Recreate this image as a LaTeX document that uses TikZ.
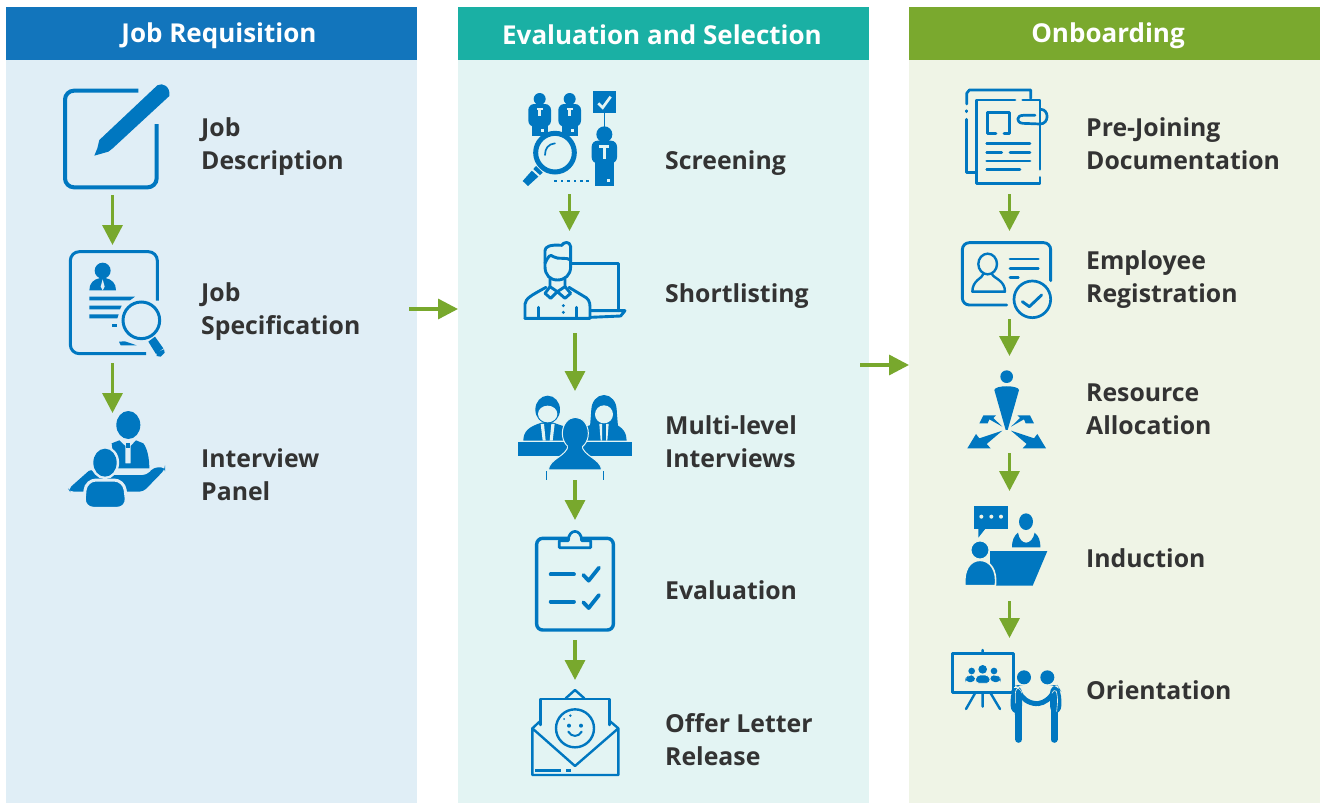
\documentclass[tikz,border=0pt]{standalone}
\usepackage{fontspec}
\setmainfont{Open Sans}
\usetikzlibrary{arrows.meta}
\definecolor{pA}{HTML}{E0EEF6}
\definecolor{pB}{HTML}{E3F4F3}
\definecolor{pC}{HTML}{EFF4E6}
\definecolor{hA}{HTML}{1275BC}
\definecolor{hB}{HTML}{1AB0A4}
\definecolor{hC}{HTML}{7AA92E}
\definecolor{ic}{HTML}{0077C0}
\definecolor{gr}{HTML}{78A82D}
\definecolor{tx}{HTML}{333333}
\tikzset{
  zoomed/.style={x=0.33333pt,y=-0.33333pt},
  panel/.style={anchor=north west,minimum width=411pt,minimum height=743pt,inner sep=0pt,outer sep=0pt},
  header/.style={anchor=north west,minimum width=411pt,minimum height=53pt,inner sep=0pt,outer sep=0pt},
  headtext/.style={inner sep=0pt,text=white,font=\fontsize{26}{30}\selectfont\bfseries},
  lab/.style={anchor=west,align=left,inner sep=0pt,text=tx,font=\fontsize{24.8}{33}\selectfont\bfseries},
  flow/.style={draw=gr,line width=3.4pt,-{Triangle[width=20pt,length=20pt]}},
  ln/.style={draw=ic,line width=3pt},
  rl/.style={draw=ic,line width=3pt,line cap=round,line join=round},
  ff/.style={fill=ic,draw=none},
}
\begin{document}
\begin{tikzpicture}[x=1pt,y=-1pt]
\useasboundingbox (0,0) rectangle (1320,803);
\fill[white] (0,0) rectangle (1320,803);
% panels
\node[panel,fill=pA] (pa) at (6,60) {};
\node[panel,fill=pB] (pb) at (458,60) {};
\node[panel,fill=pC] (pc) at (909,60) {};
\node[header,fill=hA] (ha) at (6,7) {};
\node[header,fill=hB] (hb) at (458,7) {};
\node[header,fill=hC] (hc) at (909,7) {};
\node[headtext] (ta) at (219,35.5) {Job Requisition};
\node[headtext] (tb) at (662,34.5) {Evaluation and Selection};
\node[headtext] (tc) at (1108,35.5) {Onboarding};
% labels
\node[lab] (l1) at (201,147) {Job\\Description};
\node[lab] (l2) at (201,312) {Job\\Specification};
\node[lab] (l3) at (201,475) {Interview\\Panel};
\node[lab] (l4) at (665,163) {Screening};
\node[lab] (l5) at (665,296) {Shortlisting};
\node[lab] (l6) at (665,442) {Multi-level\\Interviews};
\node[lab] (l7) at (665,590) {Evaluation};
\node[lab] (l8) at (665,740) {Offer Letter\\Release};
\node[lab] (l9) at (1086,144) {Pre-Joining\\Documentation};
\node[lab] (l10) at (1086,280) {Employee\\Registration};
\node[lab] (l11) at (1086,409) {Resource\\Allocation};
\node[lab] (l12) at (1086,558) {Induction};
\node[lab] (l13) at (1086,690) {Orientation};
% connector ends
\foreach \n/\x/\y in {a1/112.5/195,a2/112.5/245,a3/112.5/363,a4/112.5/413,
  b1/569.5/194,b2/569.5/231,b3/575/333,b4/575/391,b5/575/480,b6/575/520,b7/575/640,b8/575/680,
  c1/1009.5/194,c2/1009.5/231,c3/1009.5/319,c4/1009.5/356,c5/1009.5/453,c6/1009.5/491,c7/1009.5/601,c8/1009.5/638,
  p1/409/309,p2/458/309,p3/860/365,p4/909/365}
  \coordinate (\n) at (\x,\y);
\foreach \s/\e in {a1/a2,a3/a4,b1/b2,b3/b4,b5/b6,b7/b8,c1/c2,c3/c4,c5/c6,c7/c8,p1/p2,p3/p4}
  \draw[flow] (\s) -- (\e);
% ---------- Job description
\begin{scope}[shift={(40,70)},zoomed]
\draw[ln,line width=4pt,rounded corners=9pt] (295,62) -- (75,62) -- (75,352) -- (350,352) -- (350,162);
\fill[ic] (352,46) .. controls (368,36) and (392,50) .. (388,78) -- (218,235) -- (205,245) -- (163,257) -- (172,235) -- (178,210) -- cycle;
\end{scope}
% ---------- Job specification
\begin{scope}[shift={(40,70)},zoomed]
\draw[ln,rounded corners=9pt] (318,851) -- (91,851) -- (91,545) -- (352,545) -- (352,692);
\fill[ic] (188,602) circle (24);
\fill[ic] (148,661) .. controls (148,640) and (160,628) .. (180,624) -- (196,624) .. controls (216,628) and (228,640) .. (228,661) -- cycle;
\fill[pA] (188,628) -- (194,650) -- (188,661) -- (182,650) -- cycle;
\fill[ic] (148,680) -- (285,680) -- (270,691) -- (148,691) -- cycle;
\fill[ic] (148,707) -- (245,707) -- (240,718) -- (148,718) -- cycle;
\fill[ic] (148,733) -- (236,733) -- (232,745) -- (148,745) -- cycle;
\fill[ic] (217,761) -- (232,761) -- (232,772) -- (217,772) -- cycle;
\fill[ic] (237,815) -- (255,814) -- (290,826) -- (242,826) -- cycle;
\draw[ln] (304,751) circle (55);
\fill[ic] (325,815) -- (345,800) -- (370,835) -- (348,852) -- cycle;
\fill[ic] (350,847) -- (372,838) -- (374,848) -- (362,860) -- (350,858) -- cycle;
\end{scope}
% ---------- Interview panel
\begin{scope}[shift={(50,360)},zoomed]
\fill[ic] (235,195) ellipse [x radius=36,y radius=42];
\fill[ic] (185,250) -- (208,241) -- (226,258) -- (226,310) -- (242,310) -- (242,258) -- (258,241) -- (280,250) .. controls (292,265) and (298,295) .. (298,325) -- (195,325) -- cycle;
\fill[ic] (228,250) -- (241,250) -- (241,263) -- (228,263) -- cycle;
\fill[ic,rounded corners=4pt] (55,387) -- (125,325) -- (135,345) -- (290,345) -- (312,322) -- (345,322) -- (345,328) -- (280,395) -- (60,395) -- cycle;
\draw[fill=ic,draw=pA,line width=3pt] (165,308) ellipse [x radius=38,y radius=45];
\draw[fill=ic,draw=pA,line width=3pt,rounded corners=10pt] (100,445) -- (108,360) -- (222,360) -- (232,445) -- cycle;
\fill[ic] (165,308) ellipse [x radius=35,y radius=42];
\end{scope}
% ---------- Screening
\begin{scope}[shift={(500,80)},zoomed]
\foreach \dx in {0,90}{
  \begin{scope}[xshift=\dx*0.33333pt]
  \fill[ic] (119,57) circle (18);
  \fill[ic,rounded corners=6pt] (85,140) -- (85,72) -- (153,72) -- (153,140) -- cycle;
  \fill[ic] (96,120) rectangle (143,167);
  \fill[pB] (110,84) rectangle (128,91);
  \fill[pB] (115,84) rectangle (123,108);
  \end{scope}}
\fill[pB] (124,148) rectangle (132,156);
\fill[pB] (214,148) rectangle (222,156);
\fill[ic] (280,34) rectangle (347,100);
\draw[pB,line width=2.7pt] (295,70) -- (308,83) -- (332,50);
\draw[ic,line width=1.4pt] (313,100) -- (313,140);
\fill[ic] (313,163) circle (24);
\fill[ic,rounded corners=6pt] (275,250) -- (275,182) -- (351,182) -- (351,250) -- cycle;
\fill[ic] (285,220) rectangle (342,318);
\fill[pB] (298,195) rectangle (328,205);
\fill[pB] (308,195) rectangle (318,238);
\fill[pB] (322,298) rectangle (331,307);
\draw[fill=pB,draw=ic,line width=5pt] (165,218) circle (58);
\draw[ic,line width=1.7pt,line cap=round] (135,225) .. controls (135,205) and (145,192) .. (165,190);
\fill[ic] (68,303) -- (108,258) -- (128,278) -- (84,318) -- cycle;
\fill[pB] (94,270) -- (98,266) -- (120,286) -- (116,290) -- cycle;
\foreach \x in {167,186,205,225,244,262}
  \fill[ic] (\x-4,299) rectangle (\x+4,307);
\end{scope}
% ---------- Shortlisting
\begin{scope}[shift={(500,80)},zoomed]
\draw[rl,line width=2.9pt] (215,550) -- (355,550) -- (355,692);
\draw[rl,line width=2.9pt] (272,692) -- (375,692) -- (362,708) -- (272,712);
\draw[rl,line width=2.9pt] (135,560) -- (135,512) .. controls (135,500) and (150,493) .. (185,496) .. controls (190,486) and (210,482) .. (212,500) -- (212,560) .. controls (212,585) and (195,600) .. (172,600) .. controls (150,600) and (135,585) .. (135,560);
\draw[rl,line width=2.9pt] (135,550) .. controls (145,530) and (150,520) .. (160,530) .. controls (175,540) and (200,530) .. (212,540);
\draw[rl,line width=2.9pt] (150,595) -- (150,620) -- (172,635) -- (195,620) -- (195,595);
\draw[rl,line width=2.9pt] (150,620) -- (135,640) -- (152,655) -- (172,635) -- (195,655) -- (212,640) -- (195,620);
\draw[rl,line width=2.9pt] (75,715) -- (75,672) .. controls (78,655) and (90,648) .. (138,622);
\draw[rl,line width=2.9pt] (207,622) -- (250,648) .. controls (265,655) and (270,665) .. (270,680) -- (270,715) -- (75,715);
\draw[rl,line width=2.9pt] (115,682) -- (115,715) (230,682) -- (230,715);
\fill[ic] (190,677) circle (5) (190,697) circle (5);
\end{scope}
% ---------- Multi-level interviews
\begin{scope}[shift={(500,80)},zoomed]
\fill[ic] (70,1082) .. controls (70,1055) and (85,1040) .. (125,1028) -- (160,1028) -- (195,1040) -- (195,1082) -- cycle;
\fill[ic] (258,1082) -- (258,1040) -- (290,1028) -- (335,1028) .. controls (370,1040) and (380,1060) .. (380,1082) -- cycle;
\fill[ic] (143,989) ellipse [x radius=37,y radius=42];
\fill[pB] (143,1002) ellipse [x radius=29,y radius=25];
\fill[ic] (312,990) ellipse [x radius=38,y radius=45];
\fill[ic] (274,990) -- (350,990) -- (354,1040) -- (270,1040) -- cycle;
\fill[pB] (312,1003) ellipse [x radius=27,y radius=27];
\fill[pB] (122,1032) -- (132,1032) -- (137,1082) -- (128,1082) -- cycle;
\fill[pB] (154,1032) -- (164,1032) -- (158,1082) -- (149,1082) -- cycle;
\fill[pB] (298,1032) -- (306,1032) -- (306,1082) -- (302,1082) -- cycle;
\fill[pB] (318,1032) -- (326,1032) -- (322,1082) -- (318,1082) -- cycle;
\fill[ic] (53,1087) rectangle (397,1127);
\draw[fill=ic,draw=pB,line width=1pt] (145,1170) .. controls (148,1135) and (200,1130) .. (205,1095) -- (245,1095) .. controls (250,1130) and (302,1135) .. (305,1170) -- cycle;
\draw[fill=ic,draw=pB,line width=1pt] (226,1060) ellipse [x radius=39,y radius=48];
\fill[ic] (205,1090) rectangle (247,1120);
\draw[ic,line width=1.4pt] (140,1174) -- (140,1200) (310,1174) -- (310,1200);
\draw[pB,line width=0.8pt] (140,1172) -- (310,1172);
\end{scope}
% ---------- Evaluation
\begin{scope}[shift={(500,480)},zoomed]
\draw[ln,line width=3.4pt,rounded corners=6pt] (110,175) rectangle (340,450);
\draw[ln,line width=2.7pt,fill=pB,line join=round] (178,182) -- (178,203) -- (272,203) -- (272,182) -- (245,182) .. controls (245,145) and (205,145) .. (205,182) -- cycle;
\draw[ic,line width=3.8pt,line cap=round] (152,283) -- (222,283) (152,365) -- (222,365);
\draw[rl,line width=3.8pt] (250,285) -- (266,302) -- (297,263);
\draw[rl,line width=3.8pt] (250,367) -- (266,384) -- (297,345);
\end{scope}
% ---------- Offer letter
\begin{scope}[shift={(500,480)},zoomed]
\draw[rl,line width=2.4pt] (122,735) -- (122,657) -- (328,657) -- (328,735);
\draw[rl,line width=2.4pt] (197,655) -- (225,630) -- (253,655);
\draw[rl,line width=2.4pt] (97,745) -- (97,885) -- (355,885) -- (355,745) -- (225,858) -- cycle;
\draw[rl,line width=2.4pt] (122,722) -- (97,745) (328,722) -- (355,745);
\draw[ic,line width=2.4pt] (225,745) circle (57);
\fill[ic] (207,737) circle (6) (243,737) circle (6);
\draw[ic,line width=2pt,line cap=round] (205,755) .. controls (215,772) and (235,772) .. (245,755);
\fill[ic] (211,707) circle (4) (192,717) circle (3);
\draw[ic,line width=2.4pt] (105,872) -- (182,872) (198,872) -- (212,872);
\end{scope}
% ---------- Pre-joining documentation
\begin{scope}[shift={(940,80)},zoomed]
\draw[rl,line width=2.7pt] (80,72) -- (80,40) -- (88,30) -- (272,30) -- (272,55);
\draw[rl,line width=2.7pt] (80,92) -- (80,95);
\draw[rl,line width=2.7pt] (80,118) -- (80,278) -- (108,278);
\draw[rl,line width=2.7pt] (225,60) -- (110,60) -- (110,310) -- (300,310) -- (300,292);
\draw[rl,line width=2.7pt] (248,60) -- (300,60) -- (300,268);
\draw[rl,line width=2.7pt] (302,88) .. controls (328,88) and (328,132) .. (300,132) -- (248,130) .. controls (228,128) and (228,106) .. (250,106) -- (285,106);
\draw[rl,line width=2.7pt] (168,161) -- (142,161) -- (142,97) -- (208,97) -- (208,161) -- (192,161);
\draw[rl,line width=2.7pt] (140,191) -- (270,191) (140,217) -- (185,217) (210,217) -- (270,217) (140,243) -- (270,243) (140,269) -- (240,269);
\end{scope}
% ---------- Employee registration
\begin{scope}[shift={(940,80)},zoomed]
\draw[ln,line width=2.9pt,rounded corners=7pt,line cap=round] (200,675) -- (67,675) -- (67,488) -- (332,488) -- (332,602);
\draw[ic,line width=2.4pt] (143,552) ellipse [x radius=28,y radius=31];
\draw[rl,line width=2.4pt] (130,582) .. controls (128,595) and (97,600) .. (97,635) -- (195,635) .. controls (195,600) and (160,595) .. (156,582);
\draw[rl,line width=2.7pt] (210,537) -- (295,537) (210,565) -- (295,565) (210,593) -- (235,593);
\draw[ic,line width=2.7pt] (277,658) circle (55);
\draw[rl,line width=2.9pt] (247,665) -- (268,680) -- (305,645);
\end{scope}
% ---------- Resource allocation
\begin{scope}[shift={(940,80)},zoomed]
\fill[ic] (200,890) circle (19);
\fill[ic] (163,930) .. controls (165,915) and (235,915) .. (237,930) -- (203,1050) -- (197,1050) -- cycle;
\foreach \xs in {1,-1}{
\begin{scope}[xshift=200*0.33333pt,xscale=\xs]
\fill[ic] (-13,1052) -- (-82,1075) -- (-92,1062) -- (-118,1105) -- (-48,1105) -- (-60,1092) -- cycle;
\fill[ic] (-13,1040) -- (-52,1018) -- (-57,1030) -- (-82,1030) -- (-70,1006) -- (-32,1006) -- (-40,1014) -- cycle;
\end{scope}}
\end{scope}
% ---------- Induction
\begin{scope}[shift={(940,490)},zoomed]
\fill[ic] (102,48) rectangle (205,117);
\fill[ic] (115,115) -- (115,143) -- (137,115) -- cycle;
\fill[pC] (124,80) circle (6) (154,80) circle (6) (183,80) circle (6);
\fill[ic] (258,95) ellipse [x radius=21,y radius=25];
\fill[ic] (216,172) .. controls (216,150) and (222,138) .. (234,128) .. controls (240,168) and (276,168) .. (284,128) .. controls (296,138) and (301,150) .. (301,172) -- cycle;
\fill[ic] (150,183) -- (322,183) -- (278,287) -- (150,287) -- cycle;
\draw[fill=ic,draw=pC,line width=1.6pt] (120,180) circle (28);
\draw[fill=ic,draw=pC,line width=1.6pt] (75,287) .. controls (70,240) and (90,211) .. (120,211) .. controls (150,211) and (172,240) .. (166,287) -- cycle;
\end{scope}
% ---------- Orientation
\begin{scope}[shift={(940,490)},zoomed]
\draw[ln,line width=2.7pt,line join=round] (37,490) rectangle (220,608);
\draw[rl,line width=2.4pt] (128,480) -- (128,490) (128,608) -- (128,650) (105,610) -- (78,657) (152,610) -- (180,657);
\fill[ic] (128,538) circle (13) (95,543) circle (10) (162,543) circle (10);
\fill[ic,rounded corners=4pt] (76,576) -- (76,565) -- (86,556) -- (104,556) -- (106,576) -- cycle;
\fill[ic,rounded corners=4pt] (152,576) -- (150,556) -- (172,556) -- (182,565) -- (182,576) -- cycle;
\draw[fill=ic,draw=pC,line width=0.8pt,rounded corners=4pt] (105,580) -- (108,555) -- (148,555) -- (152,580) -- cycle;
\fill[ic] (252,562) circle (21) (322,562) circle (21);
\fill[ic,rounded corners=8pt] (212,672) -- (212,605) -- (225,585) -- (246,585) -- (246,672) -- cycle;
\fill[ic,rounded corners=8pt] (330,672) -- (330,585) -- (352,585) -- (364,605) -- (364,672) -- cycle;
\draw[ic,line width=7pt,line cap=round] (236,650) -- (236,748) (342,650) -- (342,748);
\draw[ic,line width=5pt,line cap=round] (237,605) .. controls (245,625) and (265,640) .. (290,641);
\draw[ic,line width=5pt,line cap=round] (294,641) .. controls (315,638) and (330,625) .. (340,608);
\draw[pC,line width=0.6pt,rounded corners=6pt] (226,640) -- (226,592) -- (240,590) -- (246,610);
\draw[pC,line width=0.6pt,rounded corners=6pt] (336,610) -- (345,592) -- (354,620) -- (350,665);
\end{scope}
\end{tikzpicture}
\end{document}
